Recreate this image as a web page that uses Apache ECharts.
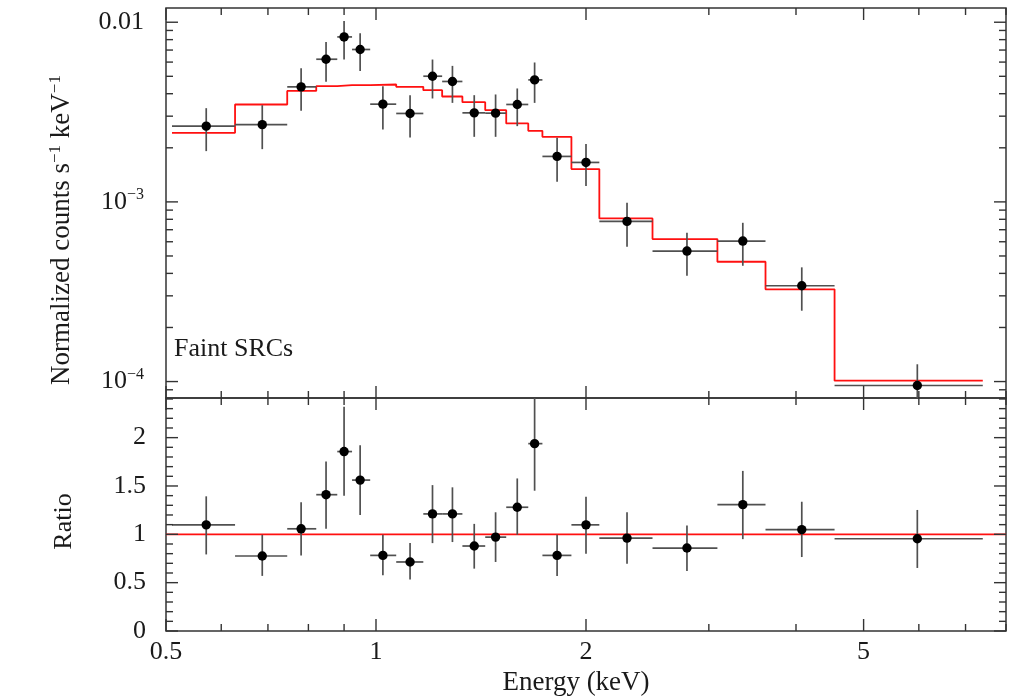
<!DOCTYPE html>
<html><head><meta charset="utf-8">
<script src="https://cdn.jsdelivr.net/npm/echarts@6/dist/echarts.min.js"></script>
<style>html,body{margin:0;padding:0;background:#fff}#c{width:1009px;height:697px}</style>
</head><body><div id="c"></div>
<script>
// ---- data ----
const binEdges = [0.510,0.628,0.746,0.821,0.880,0.924,0.981,1.069,1.169,1.244,1.330,1.434,1.537,1.653,1.732,1.906,2.090,2.491,3.086,3.617,4.543,7.41];
const energy   = [0.571,0.687,0.781,0.848,0.900,0.949,1.023,1.119,1.205,1.287,1.383,1.484,1.594,1.688,1.818,2.000,2.290,2.791,3.356,4.077,5.970];
const counts   = [2.640e-3,2.691e-3,4.367e-3,6.224e-3,8.283e-3,7.051e-3,3.499e-3,3.106e-3,5.007e-3,4.680e-3,3.130e-3,3.118e-3,3.485e-3,4.776e-3,1.791e-3,1.658e-3,7.788e-4,5.325e-4,6.053e-4,3.415e-4,9.51e-5];
const countsLo = [1.917e-3,1.966e-3,3.211e-3,4.656e-3,6.200e-3,5.360e-3,2.530e-3,2.284e-3,3.763e-3,3.557e-3,2.302e-3,2.302e-3,2.640e-3,3.557e-3,1.294e-3,1.224e-3,5.627e-4,3.882e-4,4.410e-4,2.479e-4,6.5e-5];
const countsHi = [3.324e-3,3.454e-3,5.547e-3,7.772e-3,1.017e-2,8.685e-3,4.406e-3,3.926e-3,6.200e-3,5.715e-3,3.926e-3,3.962e-3,4.279e-3,5.969e-3,2.273e-3,2.097e-3,9.886e-4,6.730e-4,7.650e-4,4.322e-4,1.248e-4];
const model    = [2.423e-3,3.485e-3,4.148e-3,4.406e-3,4.463e-3,4.463e-3,4.503e-3,4.367e-3,4.185e-3,3.861e-3,3.589e-3,3.240e-3,2.733e-3,2.486e-3,2.302e-3,1.522e-3,8.09e-4,6.209e-4,4.643e-4,3.261e-4,1.012e-4];
const ratio    = [1.098,0.776,1.057,1.410,1.856,1.561,0.782,0.714,1.211,1.211,0.879,0.971,1.280,1.938,0.782,1.098,0.961,0.858,1.307,1.049,0.954];
const ratioLo  = [0.792,0.570,0.782,1.057,1.399,1.200,0.576,0.532,0.909,0.920,0.645,0.714,0.995,1.451,0.570,0.800,0.696,0.621,0.950,0.765,0.652];
const ratioHi  = [1.393,0.995,1.331,1.753,2.319,1.921,0.995,0.909,1.509,1.486,1.108,1.228,1.578,2.500,0.995,1.389,1.228,1.090,1.656,1.337,1.252];
const ratioUnity = [[0.5,1],[8,1]];

// axis ranges and ticks
const xRange = [0.5, 8];
const countsRange = [8.1e-5, 0.012];
const ratioRange = [0, 2.41];
const xMajorTicks = [0.5,1,2,5];
const xMinorTicks = [0.6,0.7,0.8,0.9,3,4,6,7,8];
const xTickLabels = [0.5,1,2,5];
const countsMajorTicks = [1e-4,1e-3,1e-2];
const countsMinorTicks = [9e-5,2e-4,3e-4,4e-4,5e-4,6e-4,7e-4,8e-4,9e-4,2e-3,3e-3,4e-3,5e-3,6e-3,7e-3,8e-3,9e-3];
const countsTickLabels = [1e-4,1e-3,1e-2];
const ratioMajorTicks = [0,0.5,1,1.5,2];
const ratioMinorTicks = [0.1,0.2,0.3,0.4,0.6,0.7,0.8,0.9,1.1,1.2,1.3,1.4,1.6,1.7,1.8,1.9,2.1,2.2,2.3,2.4];
const ratioTickLabels = [0,0.5,1,1.5,2];

// ---- build ----
const FONT = 'Liberation Serif';
const TXT = '#1a1a1a';
const FS = 26;
const countsData = energy.map((e,i)=>[e, counts[i], binEdges[i], binEdges[i+1], countsLo[i], countsHi[i]]);
const ratioData  = energy.map((e,i)=>[e, ratio[i], binEdges[i], binEdges[i+1], ratioLo[i], ratioHi[i]]);
const modelStep = [];
model.forEach((m,i)=>{ modelStep.push([binEdges[i], m], [binEdges[i+1], m]); });

const MAJ = 12, MIN = 7;
function tickData(yRef, yMaj, yMin) {
  const d = [];
  xMajorTicks.forEach(v=>d.push([v, yRef, 0, MAJ]));
  xMinorTicks.forEach(v=>d.push([v, yRef, 0, MIN]));
  yMaj.forEach(v=>d.push([xRange[0], v, 1, MAJ]));
  yMin.forEach(v=>d.push([xRange[0], v, 1, MIN]));
  return d;
}
function tickRender(params, api) {
  const cs = params.coordSys;
  const kind = api.value(2), len = api.value(3);
  const st = {stroke:'#333', lineWidth:1.4};
  const p = api.coord([api.value(0), api.value(1)]);
  if (kind === 0) {
    const b = cs.y + cs.height, t = cs.y;
    return {type:'group', children:[
      {type:'line', shape:{x1:p[0], y1:b, x2:p[0], y2:b-len}, style:st},
      {type:'line', shape:{x1:p[0], y1:t, x2:p[0], y2:t+len}, style:st}
    ]};
  }
  const l = cs.x, r = cs.x + cs.width;
  return {type:'group', children:[
    {type:'line', shape:{x1:l, y1:p[1], x2:l+len, y2:p[1]}, style:st},
    {type:'line', shape:{x1:r, y1:p[1], x2:r-len, y2:p[1]}, style:st}
  ]};
}
function errRender(params, api) {
  const cs = params.coordSys;
  const x = api.value(0), y = api.value(1);
  const c = api.coord([x,y]);
  const a = api.coord([api.value(2), y]), b = api.coord([api.value(3), y]);
  const lo = api.coord([x, api.value(4)]), hi = api.coord([x, api.value(5)]);
  const st = {stroke:'#505050', lineWidth:1.7};
  return {type:'group',
    clipPath:{type:'rect', shape:{x:cs.x, y:cs.y, width:cs.width, height:cs.height}},
    children:[
      {type:'line', shape:{x1:a[0], y1:c[1], x2:b[0], y2:c[1]}, style:st},
      {type:'line', shape:{x1:c[0], y1:lo[1], x2:c[0], y2:hi[1]}, style:st},
      {type:'circle', shape:{cx:c[0], cy:c[1], r:4.7}, style:{fill:'#000'}}
    ]};
}
function countsLabel(v) {
  const e = Math.round(Math.log10(v));
  if (e === -2) return '0.01';
  return '10{s|−' + String(-e) + '}';
}
const supRich = {s:{fontFamily:FONT, fontSize:16, color:TXT, verticalAlign:'top', lineHeight:30}};

const labelStyle = {fontFamily:FONT, fontSize:FS, color:TXT};
const noAxis = {axisLine:{show:false}, axisTick:{show:false}, splitLine:{show:false}, minorTick:{show:false}};

const chart = echarts.init(document.getElementById('c'), null, {renderer:'canvas'});
chart.setOption({
  animation:false,
  backgroundColor:'#fff',
  title:{text:'Faint SRCs', left:174, top:336, padding:0,
    textStyle:{fontFamily:FONT, fontSize:FS, fontWeight:'normal', color:TXT}},
  grid:[
    {left:166, right:3, top:8, height:390, show:true, borderColor:'#333', borderWidth:1.5, backgroundColor:'transparent'},
    {left:166, right:3, top:398, height:235, show:true, borderColor:'#333', borderWidth:1.5, backgroundColor:'transparent'}
  ],
  xAxis:[
    Object.assign({gridIndex:0, type:'log', logBase:10, min:xRange[0], max:xRange[1], axisLabel:{show:false}}, noAxis),
    Object.assign({gridIndex:1, type:'log', logBase:10, min:xRange[0], max:xRange[1],
      axisLabel:Object.assign({customValues:xTickLabels, formatter:v=>String(v), margin:8}, labelStyle),
      name:'Energy (keV)', nameLocation:'middle', nameGap:38,
      nameTextStyle:Object.assign({padding:[0,20,0,0]}, labelStyle, {fontSize:27})}, noAxis)
  ],
  yAxis:[
    Object.assign({gridIndex:0, type:'log', logBase:10, min:countsRange[0], max:countsRange[1],
      axisLabel:Object.assign({customValues:countsTickLabels, formatter:countsLabel, margin:22, rich:supRich, lineHeight:30}, labelStyle),
      name:'{a|Normalized counts s}{s|−1}{a| keV}{s|−1}', nameLocation:'middle', nameGap:89,
      nameTextStyle:Object.assign({padding:[0,54,0,0], rich:{
        a:{fontFamily:FONT, fontSize:27, color:TXT, lineHeight:30},
        s:{fontFamily:FONT, fontSize:17, color:TXT, lineHeight:30, verticalAlign:'top'}
      }}, labelStyle)}, noAxis),
    Object.assign({gridIndex:1, type:'value', min:ratioRange[0], max:ratioRange[1],
      axisLabel:Object.assign({customValues:ratioTickLabels, formatter:v=>String(v), margin:20}, labelStyle),
      name:'Ratio', nameLocation:'middle', nameGap:89,
      nameTextStyle:Object.assign({padding:[0,14,0,0]}, labelStyle)}, noAxis)
  ],
  series:[
    {type:'line', xAxisIndex:0, yAxisIndex:0, data:modelStep, showSymbol:false, symbol:'none',
      lineStyle:{color:'#ff1010', width:1.8}, z:2, silent:true},
    {type:'custom', xAxisIndex:0, yAxisIndex:0, data:countsData, renderItem:errRender, z:3, silent:true},
    {type:'line', xAxisIndex:1, yAxisIndex:1, data:ratioUnity, showSymbol:false, symbol:'none',
      lineStyle:{color:'#ff1010', width:1.8}, z:2, silent:true},
    {type:'custom', xAxisIndex:1, yAxisIndex:1, data:ratioData, renderItem:errRender, z:3, silent:true},
    {type:'custom', xAxisIndex:0, yAxisIndex:0, data:tickData(countsRange[0], countsMajorTicks, countsMinorTicks), renderItem:tickRender, z:5, silent:true},
    {type:'custom', xAxisIndex:1, yAxisIndex:1, data:tickData(ratioRange[0], ratioMajorTicks, ratioMinorTicks), renderItem:tickRender, z:5, silent:true}
  ]
});
</script></body></html>
